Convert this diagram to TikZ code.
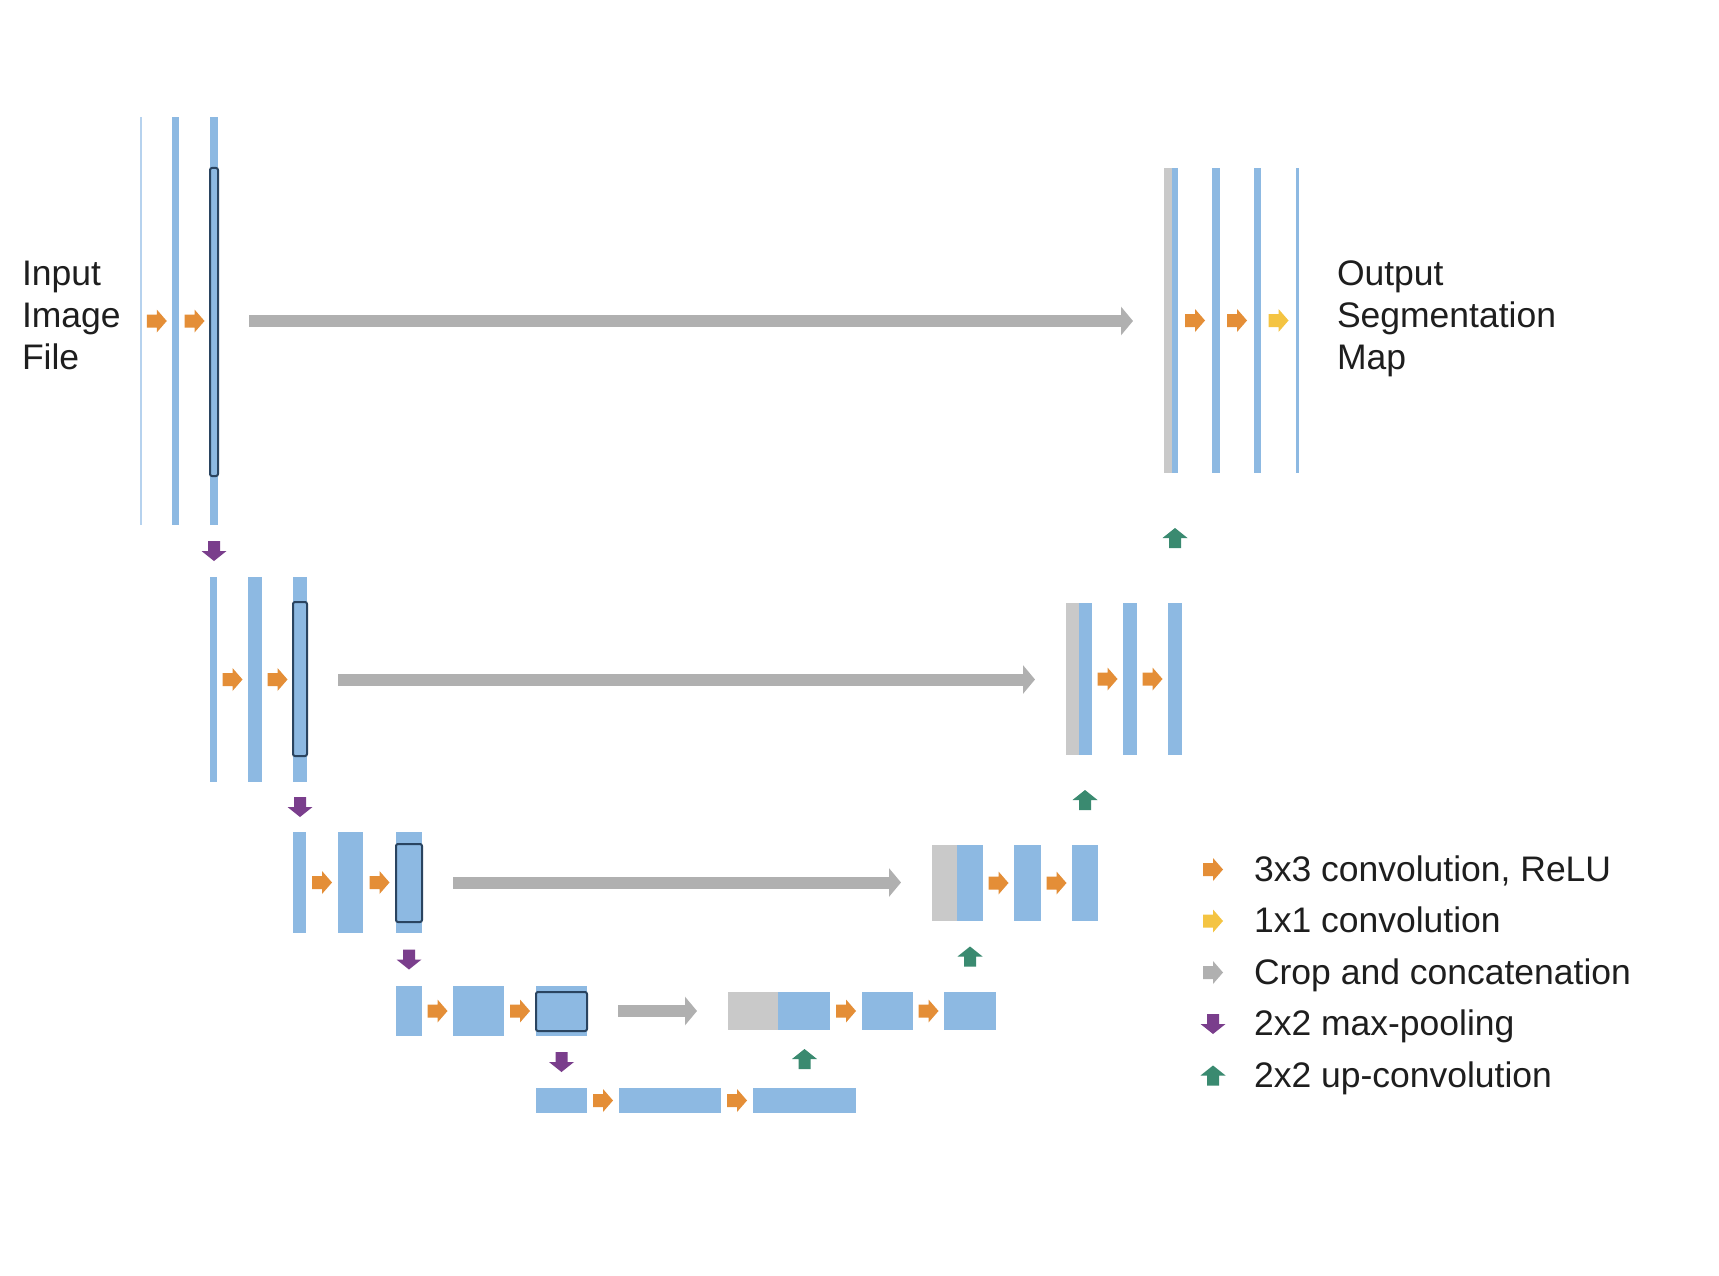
\documentclass[tikz,border=0pt]{standalone}
\usepackage{fontspec}
\setmainfont{Liberation Sans}
\usetikzlibrary{fit,calc,arrows.meta}
\definecolor{barblue}{RGB}{141,185,226}
\definecolor{barlight}{RGB}{182,210,238}
\definecolor{concatc}{RGB}{201,201,201}
\definecolor{skipc}{RGB}{176,176,176}
\definecolor{orangec}{RGB}{228,142,55}
\definecolor{yellowc}{RGB}{244,196,66}
\definecolor{purplec}{RGB}{122,62,140}
\definecolor{greenc}{RGB}{58,138,112}
\definecolor{outc}{RGB}{42,68,96}
\definecolor{textc}{RGB}{30,30,30}
\tikzset{
  barnode/.style={draw=none, inner sep=0pt, outer sep=0pt, rectangle},
  outl/.style={draw=outc, line width=2pt, rounded corners=2pt, inner sep=0pt, outer sep=0pt, rectangle},
  skiparr/.style={draw=skipc, line width=12pt, -{Triangle[width=28pt,length=12pt]}, shorten <=31pt, shorten >=31pt},
  lbl/.style={font=\fontsize{35.5}{42}\selectfont, inner sep=0pt, outer sep=0pt, text=textc, anchor=base west},
  rarr/.pic={\fill[#1] (-10,-6.5) -- (0,-6.5) -- (0,-11.5) -- (10,0) -- (0,11.5) -- (0,6.5) -- (-10,6.5) -- cycle;},
  darr/.pic={\fill[#1] (-6,-10) -- (6,-10) -- (6,0) -- (12.5,0) -- (0,10) -- (-12.5,0) -- (-6,0) -- cycle;},
  uarr/.pic={\fill[#1] (-6,10) -- (6,10) -- (6,0) -- (12.5,0) -- (0,-10) -- (-12.5,0) -- (-6,0) -- cycle;},
}
\newcommand\mkbar[6][barblue]{\node[barnode, fill=#1, fit={(#3,#5) (#4,#6)}] (#2) {};}
\newcommand\mkconv[3][orangec]{\pic at ($(#2.east)!.5!(#3.west)$) {rarr=#1};}
\begin{document}
\begin{tikzpicture}[x=1pt,y=-1pt]
\fill[white] (0,0) rectangle (1719,1276);
\useasboundingbox (0,0) rectangle (1719,1276);

% ---- row 1 ----
\mkbar[barlight]{l1a}{139.5}{142}{117}{525}
\mkbar{l1b}{171.5}{179}{117}{525}
\mkbar{l1c}{210}{218}{117}{525}
\node[outl, fit={(210,168) (218,476)}] (o1) {};
\mkbar[concatc]{r1g}{1164}{1172}{168}{473}
\mkbar{r1a}{1172}{1178}{168}{473}
\mkbar{r1b}{1212}{1220}{168}{473}
\mkbar{r1c}{1254}{1261}{168}{473}
\mkbar{r1d}{1296}{1298.5}{168}{473}
\mkconv{l1a}{l1b}
\mkconv{l1b}{l1c}
\mkconv{r1a}{r1b}
\mkconv{r1b}{r1c}
\mkconv[yellowc]{r1c}{r1d}
\draw[skiparr] (l1c.east) -- (l1c.east -| r1g.west);

% ---- row 2 ----
\mkbar{l2a}{210}{217}{577}{782}
\mkbar{l2b}{248}{262}{577}{782}
\mkbar{l2c}{293}{307}{577}{782}
\node[outl, fit={(293,602) (307,756)}] (o2) {};
\mkbar[concatc]{r2g}{1066}{1079}{603}{755}
\mkbar{r2a}{1079}{1092}{603}{755}
\mkbar{r2b}{1123}{1137}{603}{755}
\mkbar{r2c}{1168}{1182}{603}{755}
\mkconv{l2a}{l2b}
\mkconv{l2b}{l2c}
\mkconv{r2a}{r2b}
\mkconv{r2b}{r2c}
\draw[skiparr] (l2c.east) -- (l2c.east -| r2g.west);

% ---- row 3 ----
\mkbar{l3a}{293}{306}{832}{933}
\mkbar{l3b}{338}{363}{832}{933}
\mkbar{l3c}{396}{422}{832}{933}
\node[outl, fit={(396,844) (422,922)}] (o3) {};
\mkbar[concatc]{r3g}{932}{957}{845}{921}
\mkbar{r3a}{957}{983}{845}{921}
\mkbar{r3b}{1014}{1041}{845}{921}
\mkbar{r3c}{1072}{1098}{845}{921}
\mkconv{l3a}{l3b}
\mkconv{l3b}{l3c}
\mkconv{r3a}{r3b}
\mkconv{r3b}{r3c}
\draw[skiparr] (l3c.east) -- (l3c.east -| r3g.west);

% ---- row 4 ----
\mkbar{l4a}{396}{422}{986}{1036}
\mkbar{l4b}{453}{504}{986}{1036}
\mkbar{l4c}{536}{587}{986}{1036}
\node[outl, fit={(536,992) (587,1031)}] (o4) {};
\mkbar[concatc]{r4g}{728}{778}{992}{1030}
\mkbar{r4a}{778}{830}{992}{1030}
\mkbar{r4b}{862}{913}{992}{1030}
\mkbar{r4c}{944}{996}{992}{1030}
\mkconv{l4a}{l4b}
\mkconv{l4b}{l4c}
\mkconv{r4a}{r4b}
\mkconv{r4b}{r4c}
\draw[skiparr] (l4c.east) -- (l4c.east -| r4g.west);

% ---- row 5 ----
\mkbar{b1}{536}{587}{1088}{1113}
\mkbar{b2}{619}{721}{1088}{1113}
\mkbar{b3}{753}{856}{1088}{1113}
\mkconv{b1}{b2}
\mkconv{b2}{b3}

% ---- max-pooling ----
\pic at ($(l1c.south)!.5!(l1c.south |- l2a.north)$) {darr=purplec};
\pic at ($(l2c.south)!.5!(l2c.south |- l3a.north)$) {darr=purplec};
\pic at ($(l3c.south)!.5!(l3c.south |- l4a.north)$) {darr=purplec};
\pic at ($(l4c.south)!.5!(l4c.south |- b1.north)$) {darr=purplec};

% ---- up-convolution ----
\pic at ($(r2c.north)!.5!(r2c.north |- r1a.south)$) {uarr=greenc};
\pic at ($(r3c.north)!.5!(r3c.north |- r2a.south)$) {uarr=greenc};
\pic at ($(r4c.north)!.5!(r4c.north |- r3a.south)$) {uarr=greenc};
\pic at ($(b3.north)!.5!(b3.north |- r4a.south)$) {uarr=greenc};

% ---- labels ----
\node[lbl] (in1) at (22,285) {Input};
\node[lbl] (in2) at (22,327) {Image};
\node[lbl] (in3) at (22,369) {File};
\node[lbl] (out1) at (1337,285) {Output};
\node[lbl] (out2) at (1337,327) {Segmentation};
\node[lbl] (out3) at (1337,369) {Map};

% ---- legend ----
\node[lbl] (lg1) at (1254,881) {3x3 convolution, ReLU};
\node[lbl] (lg2) at (1254,932.5) {1x1 convolution};
\node[lbl] (lg3) at (1254,984) {Crop and concatenation};
\node[lbl] (lg4) at (1254,1035.5) {2x2 max-pooling};
\node[lbl] (lg5) at (1254,1087) {2x2 up-convolution};
\pic at (1213,869.5) {rarr=orangec};
\pic at (1213,921) {rarr=yellowc};
\pic at (1213,972.5) {rarr=skipc};
\pic at (1213,1024) {darr=purplec};
\pic at (1213,1075.5) {uarr=greenc};
\end{tikzpicture}
\end{document}
